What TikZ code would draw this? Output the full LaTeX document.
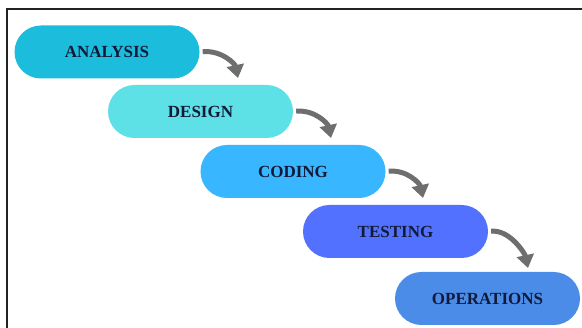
\documentclass[tikz,border=0pt]{standalone}
\usepackage{fontspec}
\setmainfont{Liberation Serif}
\usetikzlibrary{arrows.meta}
\definecolor{cA}{HTML}{1CBCDC}
\definecolor{cD}{HTML}{5DE0E6}
\definecolor{cC}{HTML}{38B6FF}
\definecolor{cT}{HTML}{5271FF}
\definecolor{cO}{HTML}{4A8CE8}
\definecolor{txt}{HTML}{121A38}
\definecolor{arr}{HTML}{6E6E6E}
\definecolor{frame}{HTML}{222222}
\begin{document}
\begin{tikzpicture}[x=1pt,y=-1pt,
  phase/.style={rectangle, rounded corners=26.5pt, minimum width=185pt, minimum height=53pt,
    inner sep=0pt, text=txt, font=\fontsize{17}{20}\selectfont\bfseries},
  flow/.style={draw=arr, line width=5pt, -{Triangle[width=17pt,length=13pt]}, shorten <=3pt}]
\useasboundingbox (0,0) rectangle (582,328);
\fill[white] (0,0) rectangle (582,328);
\draw[frame, line width=2pt] (7,328) -- (7,9.5) -- (582,9.5);
\node[phase, fill=cA] (A) at (107,52) {ANALYSIS};
\node[phase, fill=cD] (D) at (200.5,111.5) {DESIGN};
\node[phase, fill=cC] (C) at (293,171.5) {CODING};
\node[phase, fill=cT] (T) at (395.5,231.5) {TESTING};
\node[phase, fill=cO] (O) at (487.5,298.5) {OPERATIONS};
\coordinate (t1) at (238,78);
\coordinate (t2) at (331,138);
\coordinate (t3) at (423,198);
\coordinate (t4) at (528,268);
\draw[flow] (A.east) .. controls +(22,-2) and +(-3,-14) .. (t1);
\draw[flow] (D.east) .. controls +(22,-2) and +(-3,-14) .. (t2);
\draw[flow] (C.east) .. controls +(22,-2) and +(-3,-14) .. (t3);
\draw[flow] (T.east) .. controls +(22,-2) and +(-3,-14) .. (t4);
\end{tikzpicture}
\end{document}
